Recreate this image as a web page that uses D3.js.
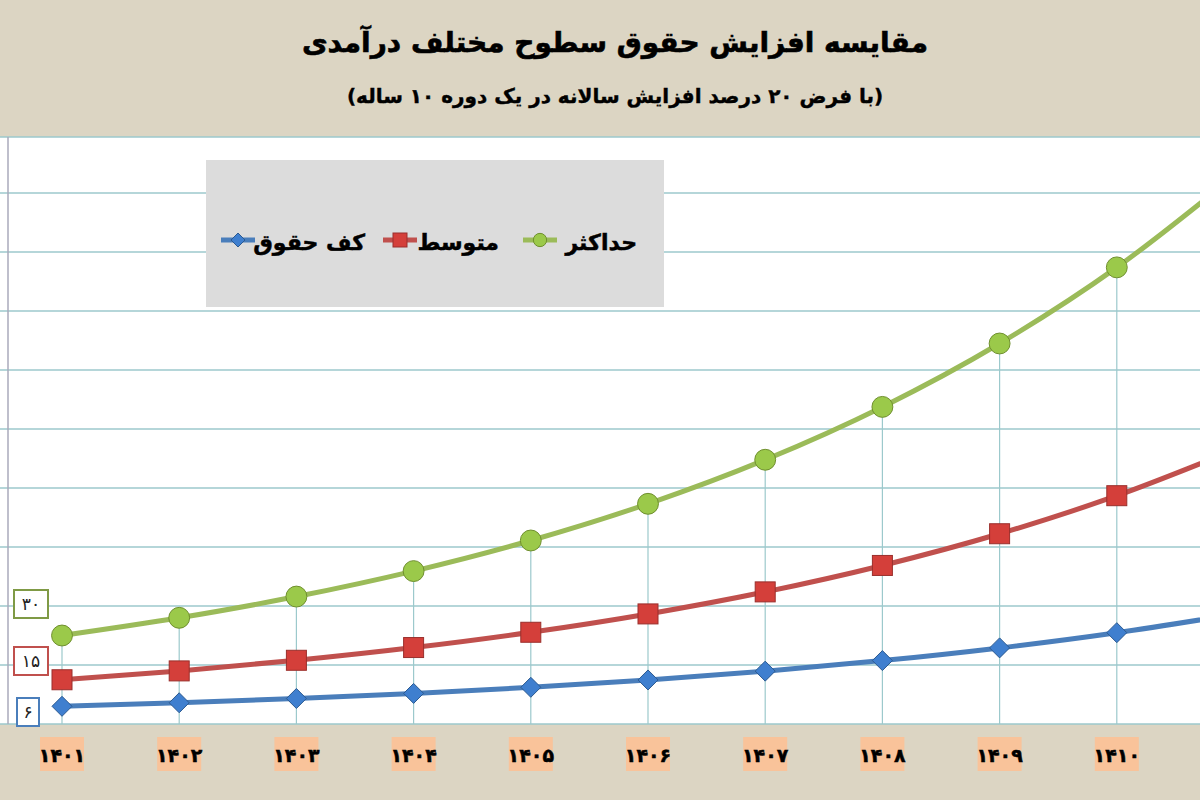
<!DOCTYPE html><html><head><meta charset="utf-8">
<script src="https://cdn.jsdelivr.net/npm/d3@7"></script>
<style>body{margin:0;background:#dcd5c3}svg{display:block}</style></head><body>
<svg id="c" width="1200" height="800"></svg>
<script>
const years=["۱۴۰۱","۱۴۰۲","۱۴۰۳","۱۴۰۴","۱۴۰۵","۱۴۰۶","۱۴۰۷","۱۴۰۸","۱۴۰۹","۱۴۱۰","۱۴۱۱"];
const minWage=[6,7.2,8.64,10.37,12.44,14.93,17.92,21.5,25.8,30.96,37.15];
const avgWage=[15,18,21.6,25.92,31.1,37.32,44.79,53.75,64.5,77.4,92.88];
const maxWage=[30,36,43.2,51.84,62.21,74.65,89.58,107.5,129,154.8,185.76];
const startLabels=["۶","۱۵","۳۰"];
const seriesNames=["کف حقوق","متوسط","حداکثر"];
const gridTicks=[0,20,40,60,80,100,120,140,160,180,199];

const svg=d3.select("#c");
const F="'DejaVu Sans',sans-serif";
svg.append("rect").attr("width",1200).attr("height",800).attr("fill","#dcd5c3");
svg.append("text").attr("x",615).attr("y",52).attr("text-anchor","middle").attr("font-family",F).attr("font-weight","bold").attr("font-size",28).attr("fill","#000").attr("stroke","#000").attr("stroke-width",0.6).text("مقایسه افزایش حقوق سطوح مختلف درآمدی");
svg.append("text").attr("x",615).attr("y",103).attr("text-anchor","middle").attr("font-family",F).attr("font-weight","bold").attr("font-size",20).attr("fill","#000").attr("stroke","#000").attr("stroke-width",0.4).text("(با فرض ۲۰ درصد افزایش سالانه در یک دوره ۱۰ ساله)");

const x=d3.scalePoint().domain(d3.range(years.length)).range([62,1234]);
const y=d3.scaleLinear().domain([0,199]).range([724,137]);
svg.append("rect").attr("x",0).attr("y",y(199)).attr("width",1200).attr("height",y(0)-y(199)).attr("fill","#fff");
const g=svg.append("g");
g.selectAll("line.h").data(gridTicks).join("line").attr("x1",0).attr("x2",1200).attr("y1",d=>y(d)).attr("y2",d=>y(d)).attr("stroke","#9cc9cc").attr("stroke-width",1.5);
g.append("line").attr("x1",8).attr("x2",8).attr("y1",y(199)).attr("y2",y(0)).attr("stroke","#aab").attr("stroke-width",1.5);
g.selectAll("line.v").data(d3.range(years.length)).join("line").attr("x1",i=>x(i)).attr("x2",i=>x(i)).attr("y1",i=>y(maxWage[i])).attr("y2",y(0)).attr("stroke","#9cc9cc").attr("stroke-width",1.2);

const series=[{v:minWage,c:"#4a7ebb",m:"d"},{v:avgWage,c:"#c0504d",m:"s"},{v:maxWage,c:"#9bbb59",m:"c"}];
const line=d3.line().x((d,i)=>x(i)).y(d=>y(d)).curve(d3.curveMonotoneX);
function marker(sel,s,cx,cy,sz){
  if(s.m==="c") sel.append("circle").attr("cx",cx).attr("cy",cy).attr("r",sz*0.95).attr("fill","#9bc94a").attr("stroke","#6f8f2e").attr("stroke-width",1);
  else if(s.m==="s") sel.append("rect").attr("x",cx-sz).attr("y",cy-sz).attr("width",2*sz).attr("height",2*sz).attr("fill","#d43f3a").attr("stroke","#9a2f2c");
  else sel.append("path").attr("d",`M${cx},${cy-sz}L${cx+sz},${cy}L${cx},${cy+sz}L${cx-sz},${cy}Z`).attr("fill","#3f7fcf").attr("stroke","#2c5a90");
}
series.forEach(s=>{
  g.append("path").attr("d",line(s.v)).attr("fill","none").attr("stroke",s.c).attr("stroke-width",5);
  s.v.forEach((v,i)=>marker(g,s,x(i),y(v),s.m==="c"?11:10));
});

const boxes=[{t:startLabels[0],yy:712,c:"#4a7ebb"},{t:startLabels[1],yy:661,c:"#c0504d"},{t:startLabels[2],yy:604,c:"#7f9a45"}];
boxes.forEach(b=>{
  svg.append("rect").attr("x",b.t.length>1?14:17).attr("y",b.yy-14).attr("width",b.t.length>1?34:22).attr("height",28).attr("fill","#fff").attr("stroke",b.c).attr("stroke-width",2);
  svg.append("text").attr("x",b.t.length>1?31:28).attr("y",b.yy+6).attr("text-anchor","middle").attr("font-family",F).attr("font-size",17).attr("fill","#222").text(b.t);
});

years.forEach((t,i)=>{
  if(x(i)>1200) return;
  svg.append("rect").attr("x",x(i)-22).attr("y",737).attr("width",44).attr("height",34).attr("fill","#f9c39a");
  svg.append("text").attr("x",x(i)).attr("y",762).attr("text-anchor","middle").attr("font-family",F).attr("font-weight","bold").attr("font-size",19).attr("fill","#000").attr("stroke","#000").attr("stroke-width",0.5).text(t);
});

svg.append("rect").attr("x",206).attr("y",160).attr("width",458).attr("height",147).attr("fill","#dcdcdc");
const leg=[{s:series[2],n:seriesNames[2],tx:637,mx:540},{s:series[1],n:seriesNames[1],tx:499,mx:400},{s:series[0],n:seriesNames[0],tx:365,mx:238}];
leg.forEach(l=>{
  svg.append("line").attr("x1",l.mx-17).attr("x2",l.mx+17).attr("y1",240).attr("y2",240).attr("stroke",l.s.c).attr("stroke-width",5);
  marker(svg,l.s,l.mx,240,7);
  svg.append("text").attr("x",l.tx).attr("y",250).attr("text-anchor","end").attr("font-family",F).attr("font-weight","bold").attr("font-size",22).attr("fill","#000").attr("stroke","#000").attr("stroke-width",0.5).text(l.n);
});
</script></body></html>
